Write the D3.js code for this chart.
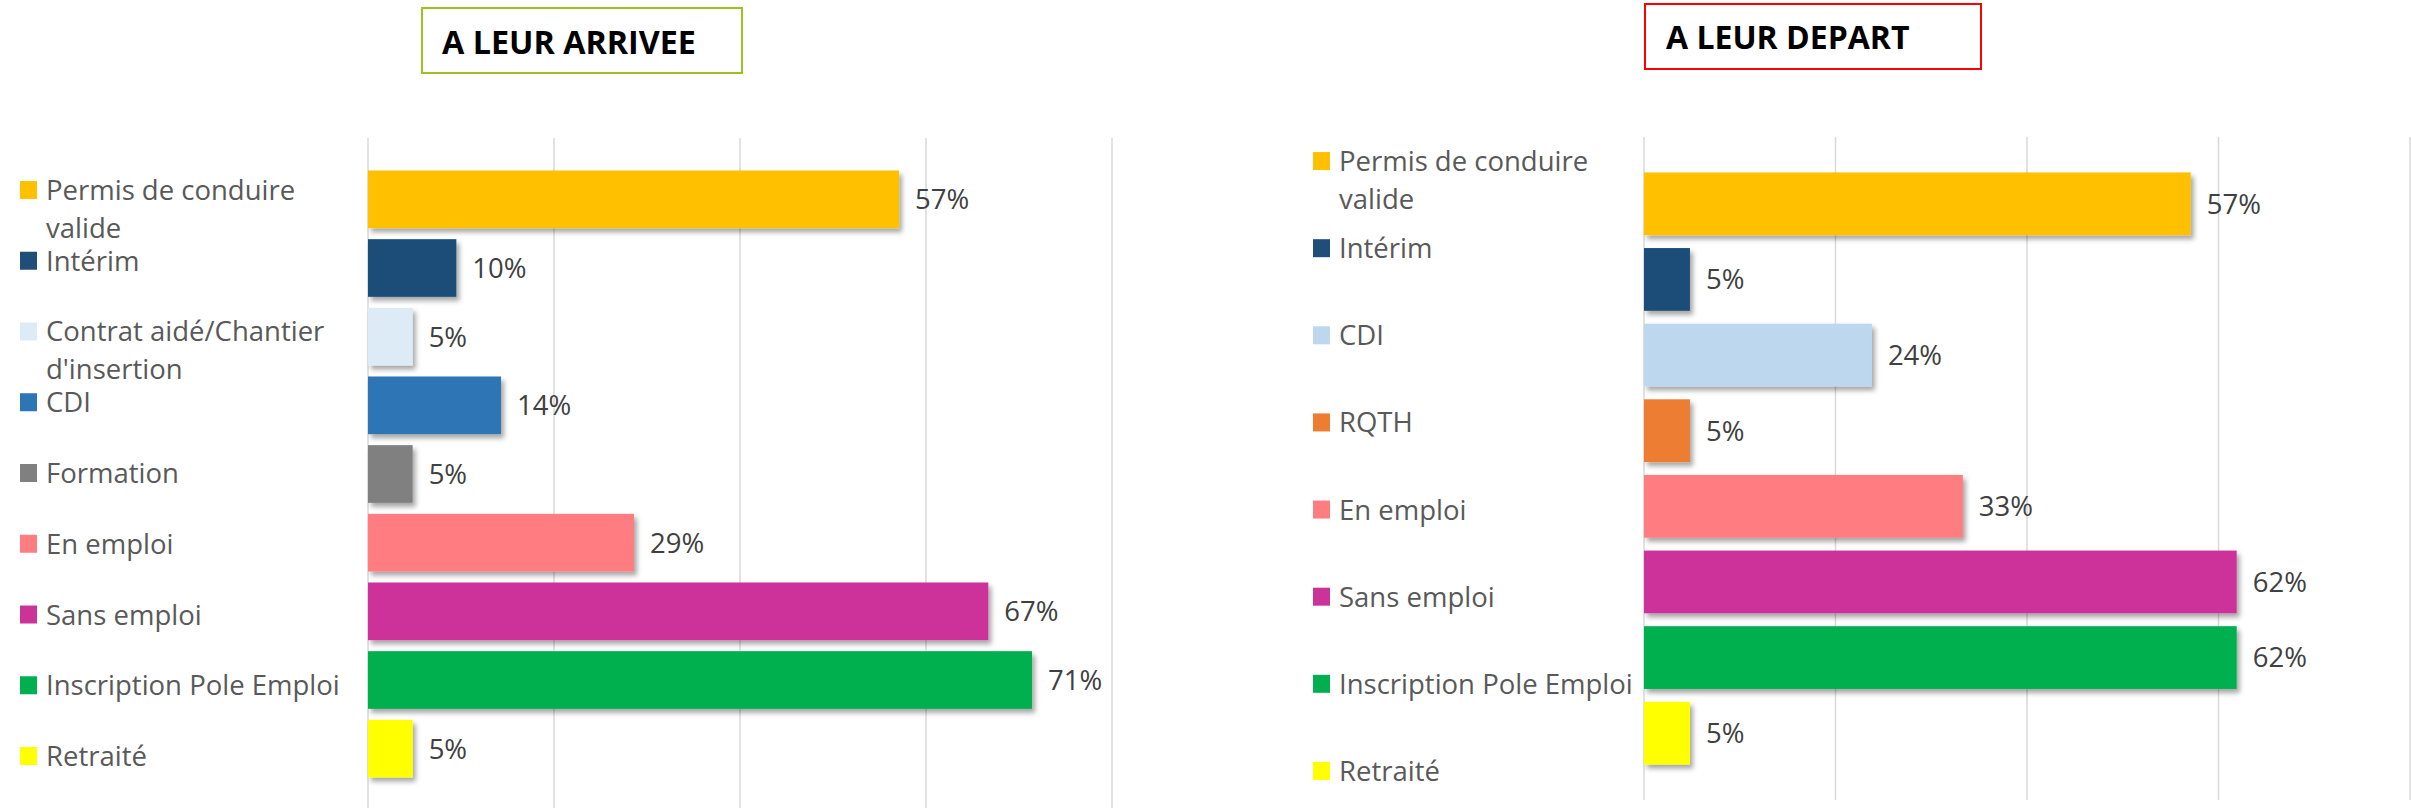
<!DOCTYPE html>
<html>
<head>
<meta charset="utf-8">
<script src="https://cdn.jsdelivr.net/npm/d3@7"></script>
<style>
  body { margin: 0; background: #fff; }
  svg { display: block; font-family: "Open Sans", sans-serif; }
</style>
</head>
<body>
<svg id="chart" width="2412" height="808"></svg>
<script>
// A LEUR ARRIVEE
var arriveeCategories = [
  "Permis de conduire valide", "Intérim", "Contrat aidé/Chantier d'insertion", "CDI",
  "Formation", "En emploi", "Sans emploi", "Inscription Pole Emploi", "Retraité"
];
var arriveeLegendLines = [
  ["Permis de conduire", "valide"], ["Intérim"], ["Contrat aidé/Chantier", "d'insertion"], ["CDI"],
  ["Formation"], ["En emploi"], ["Sans emploi"], ["Inscription Pole Emploi"], ["Retraité"]
];
var arriveeValues = [0.571, 0.095, 0.048, 0.143, 0.048, 0.286, 0.667, 0.714, 0.048];
var arriveeColors = ["#FFC000", "#1F4E79", "#DDEBF7", "#2E75B6", "#808080",
                     "#FF7C80", "#CC3399", "#00B050", "#FFFF00"];

// A LEUR DEPART
var departCategories = [
  "Permis de conduire valide", "Intérim", "CDI", "RQTH",
  "En emploi", "Sans emploi", "Inscription Pole Emploi", "Retraité"
];
var departLegendLines = [
  ["Permis de conduire", "valide"], ["Intérim"], ["CDI"], ["RQTH"],
  ["En emploi"], ["Sans emploi"], ["Inscription Pole Emploi"], ["Retraité"]
];
var departValues = [0.571, 0.048, 0.238, 0.048, 0.333, 0.619, 0.619, 0.048];
var departColors = ["#FFC000", "#1F4E79", "#BDD7EE", "#ED7D31",
                    "#FF7C80", "#CC3399", "#00B050", "#FFFF00"];

var tickValues = [0, 0.2, 0.4, 0.6, 0.8];

var svg = d3.select("#chart");

// soft shadow under the bars
var defs = svg.append("defs");
defs.append("filter")
    .attr("id", "shadow")
    .attr("x", "-10%").attr("y", "-20%")
    .attr("width", "130%").attr("height", "160%")
  .append("feDropShadow")
    .attr("dx", 3)
    .attr("dy", 4)
    .attr("stdDeviation", 2.5)
    .attr("flood-color", "#000")
    .attr("flood-opacity", 0.35);

function drawPanel(opt) {
  var g = svg.append("g");

  var x = d3.scaleLinear()
    .domain([0, 0.8])
    .range(opt.xRange);

  var y = d3.scaleBand()
    .domain(opt.categories)
    .range(opt.barRange)
    .paddingInner(opt.pad)
    .paddingOuter(opt.pad / 2);

  var yLegend = d3.scaleBand()
    .domain(opt.categories)
    .range(opt.legendRange);

  // title box
  g.append("rect")
    .attr("x", opt.title.x)
    .attr("y", opt.title.y)
    .attr("width", opt.title.w)
    .attr("height", opt.title.h)
    .attr("fill", "#fff")
    .attr("stroke", opt.title.stroke)
    .attr("stroke-width", 2);

  g.append("text")
    .attr("x", opt.title.tx)
    .attr("y", opt.title.ty)
    .attr("font-size", opt.title.size)
    .attr("font-weight", "bold")
    .attr("fill", "#000")
    .text(opt.title.text);

  // vertical gridlines
  g.append("g")
    .attr("class", "grid")
    .selectAll("line")
    .data(tickValues)
    .enter().append("line")
      .attr("x1", function(d) { return x(d); })
      .attr("x2", function(d) { return x(d); })
      .attr("y1", opt.gridTop)
      .attr("y2", opt.gridBottom)
      .attr("stroke", "#d9d9d9")
      .attr("stroke-width", 1.5);

  // bars
  g.append("g")
    .selectAll("rect")
    .data(opt.values)
    .enter().append("rect")
      .attr("x", x(0))
      .attr("y", function(d, i) { return y(opt.categories[i]); })
      .attr("width", function(d) { return x(d) - x(0); })
      .attr("height", y.bandwidth())
      .attr("fill", function(d, i) { return opt.colors[i]; })
      .attr("filter", "url(#shadow)");

  // value labels
  g.append("g")
    .selectAll("text")
    .data(opt.values)
    .enter().append("text")
      .attr("x", function(d) { return x(d) + 16; })
      .attr("y", function(d, i) { return y(opt.categories[i]) + y.bandwidth() / 2; })
      .attr("dy", "0.36em")
      .attr("font-size", "27.5px")
      .attr("fill", "#404040")
      .text(function(d) { return Math.round(d * 100) + "%"; });

  // legend
  var legend = g.append("g")
    .selectAll("g")
    .data(opt.categories)
    .enter().append("g")
      .attr("transform", function(d) {
        return "translate(" + opt.legendX + "," + (yLegend(d) + yLegend.bandwidth() / 2) + ")";
      });

  legend.append("rect")
    .attr("x", 0)
    .attr("y", -9)
    .attr("width", 17)
    .attr("height", 18)
    .attr("fill", function(d, i) { return opt.colors[i]; });

  legend.append("text")
    .attr("font-size", "27.5px")
    .attr("fill", "#595959")
    .selectAll("tspan")
    .data(function(d, i) { return opt.legendLines[i]; })
    .enter().append("tspan")
      .attr("x", 26)
      .attr("y", function(d, j) { return 10 + j * 38; })
      .text(function(d) { return d; });
}

drawPanel({
  categories: arriveeCategories,
  legendLines: arriveeLegendLines,
  values: arriveeValues,
  colors: arriveeColors,
  xRange: [368, 1112],
  barRange: [165, 783],
  pad: 0.16,
  legendRange: [154.6, 791.4],
  legendX: 20,
  gridTop: 138,
  gridBottom: 808,
  title: { x: 422, y: 8, w: 320, h: 65, tx: 442, ty: 54, size: "32.3px", stroke: "#9BC31F", text: "A LEUR ARRIVEE" }
});

drawPanel({
  categories: departCategories,
  legendLines: departLegendLines,
  values: departValues,
  colors: departColors,
  xRange: [1644, 2410],
  barRange: [166, 771],
  pad: 0.17,
  legendRange: [117.5, 814.5],
  legendX: 1313,
  gridTop: 137,
  gridBottom: 800,
  title: { x: 1645, y: 4, w: 336, h: 65, tx: 1666, ty: 49, size: "32px", stroke: "#FF0000", text: "A LEUR DEPART" }
});
</script>
</body>
</html>
